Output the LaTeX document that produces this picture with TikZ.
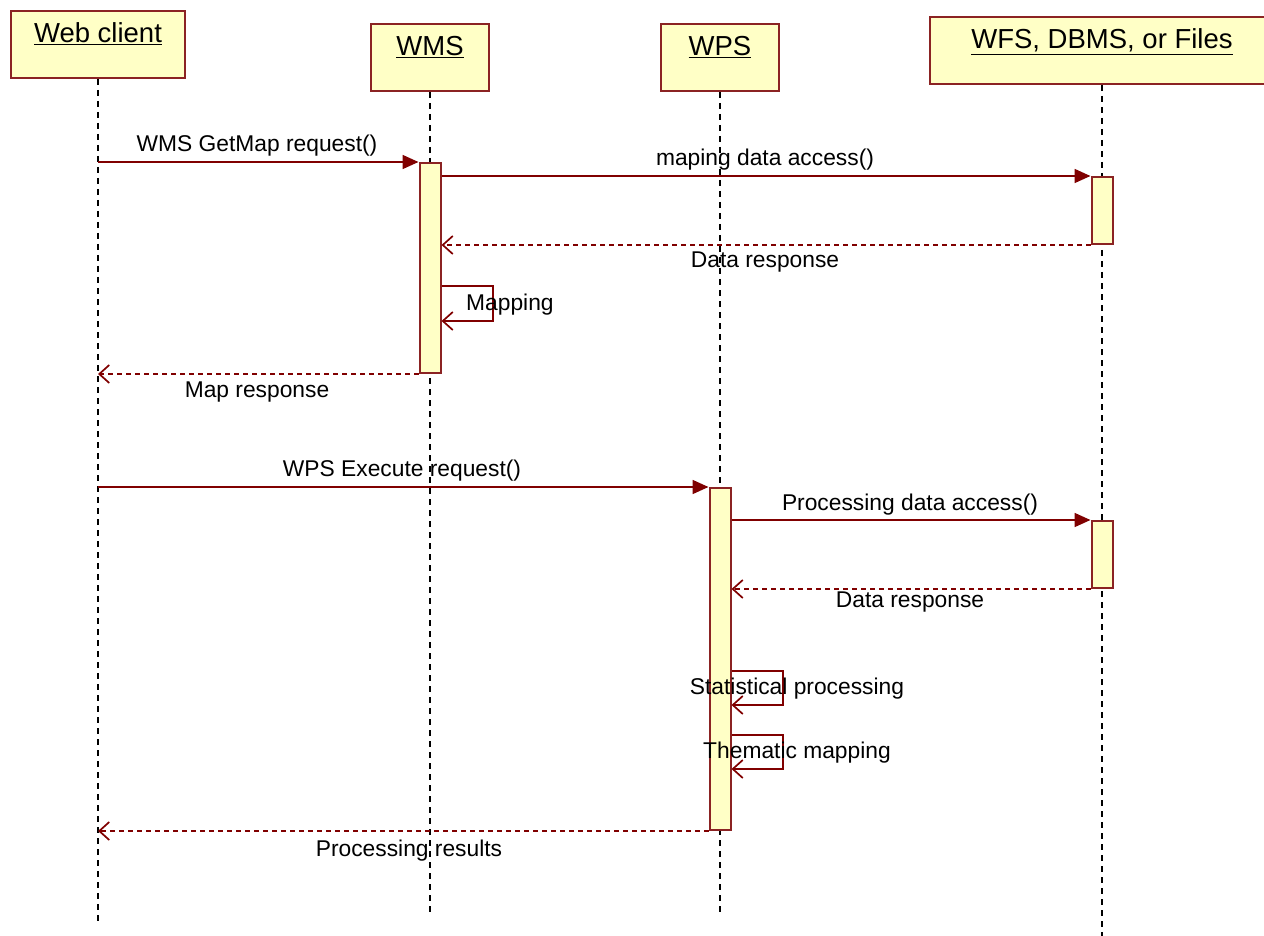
\documentclass[tikz,border=0pt]{standalone}
\usepackage{fontspec}
\setmainfont{Liberation Sans}
\usetikzlibrary{arrows.meta}
\definecolor{umlred}{HTML}{8B2323}
\definecolor{umlfill}{HTML}{FFFFC6}
\definecolor{msgred}{HTML}{800000}
\newcommand\ulname[1]{$\underline{\hbox{#1}}$}
\begin{document}
\begin{tikzpicture}[x=1pt,y=-1pt,
  head/.style={draw=umlred, line width=2pt, fill=umlfill, inner xsep=0pt, inner ysep=0pt,
    text height=32pt, text depth=35pt, font=\fontsize{27.5}{32}\selectfont, anchor=north},
  act/.style={draw=umlred, line width=2pt, fill=umlfill, minimum width=21pt, inner sep=0pt, anchor=north},
  life/.style={black, line width=1.8pt, dash pattern=on 6pt off 5pt},
  call/.style={msgred, line width=1.8pt, -{Triangle[length=16pt,width=14pt]}},
  reply/.style={msgred, line width=1.7pt, dash pattern=on 5pt off 4pt, -{Straight Barb[length=10pt,width=18pt]}},
  selfmsg/.style={msgred, line width=1.7pt, -{Straight Barb[length=10pt,width=18pt]}},
  lbl/.style={font=\fontsize{22.8}{27}\selectfont, inner sep=0pt, anchor=base}]
\useasboundingbox (0,0) rectangle (1264,936);
\clip (0,0) rectangle (1264,936);
% headers
\node[head, minimum width=174pt] (web) at (98,10) {\ulname{Web client}};
\node[head, minimum width=118pt] (wms) at (430,23) {\ulname{WMS}};
\node[head, minimum width=118pt] (wps) at (720,23) {\ulname{WPS}};
\node[head, minimum width=344pt] (wfs) at (1102,16) {\ulname{WFS, DBMS, or Files}};
% lifelines
\coordinate (webend) at (98,922);
\coordinate (wmsend) at (430,916);
\coordinate (wpsend) at (720,916);
\coordinate (wfsend) at (1102,936);
\draw[life] (web.south) -- (webend);
\draw[life] (wms.south) -- (wmsend);
\draw[life] (wps.south) -- (wpsend);
\draw[life] (wfs.south) -- (wfsend);
% activations
\node[act, minimum height=210pt] (a1) at (430,162) {};
\node[act, minimum height=67pt] (w1) at (1102,176) {};
\node[act, minimum height=342pt] (a2) at (720,487) {};
\node[act, minimum height=67pt] (w2) at (1102,520) {};
% messages
\draw[call] (web.south |- a1.north) -- (a1.north west);
\draw[call] (a1.east |- w1.north) -- (w1.north west);
\draw[reply] (w1.south west) -- (a1.east |- w1.south);
\coordinate (m1) at (493,286);
\coordinate (m2) at (493,321);
\draw[selfmsg] (a1.east |- m1) -- (m1) -- (m2) -- (a1.east |- m2);
\draw[reply] (a1.south west) -- (web.south |- a1.south);
\draw[call] (web.south |- a2.north) -- (a2.north west);
\draw[call] (a2.east |- w2.north) -- (w2.north west);
\draw[reply] (w2.south west) -- (a2.east |- w2.south);
\coordinate (s1) at (783,671);
\coordinate (s2) at (783,705);
\draw[selfmsg] (a2.east |- s1) -- (s1) -- (s2) -- (a2.east |- s2);
\coordinate (t1) at (783,735);
\coordinate (t2) at (783,769);
\draw[selfmsg] (a2.east |- t1) -- (t1) -- (t2) -- (a2.east |- t2);
\draw[reply] (a2.south west) -- (web.south |- a2.south);
% labels
\node[lbl] (l1) at (257,152) {WMS GetMap request()};
\node[lbl] (l2) at (765,166) {maping data access()};
\node[lbl] (l3) at (765,268) {Data response};
\node[lbl, anchor=base west] (l4) at (466,310) {Mapping};
\node[lbl] (l5) at (257,397) {Map response};
\node[lbl] (l6) at (402,476) {WPS Execute request()};
\node[lbl] (l7) at (910,510) {Processing data access()};
\node[lbl] (l8) at (910,607) {Data response};
\node[lbl] (l9) at (797,694) {Statistical processing};
\node[lbl] (l10) at (797,758) {Thematic mapping};
\node[lbl] (l11) at (409,856) {Processing results};
\end{tikzpicture}
\end{document}
